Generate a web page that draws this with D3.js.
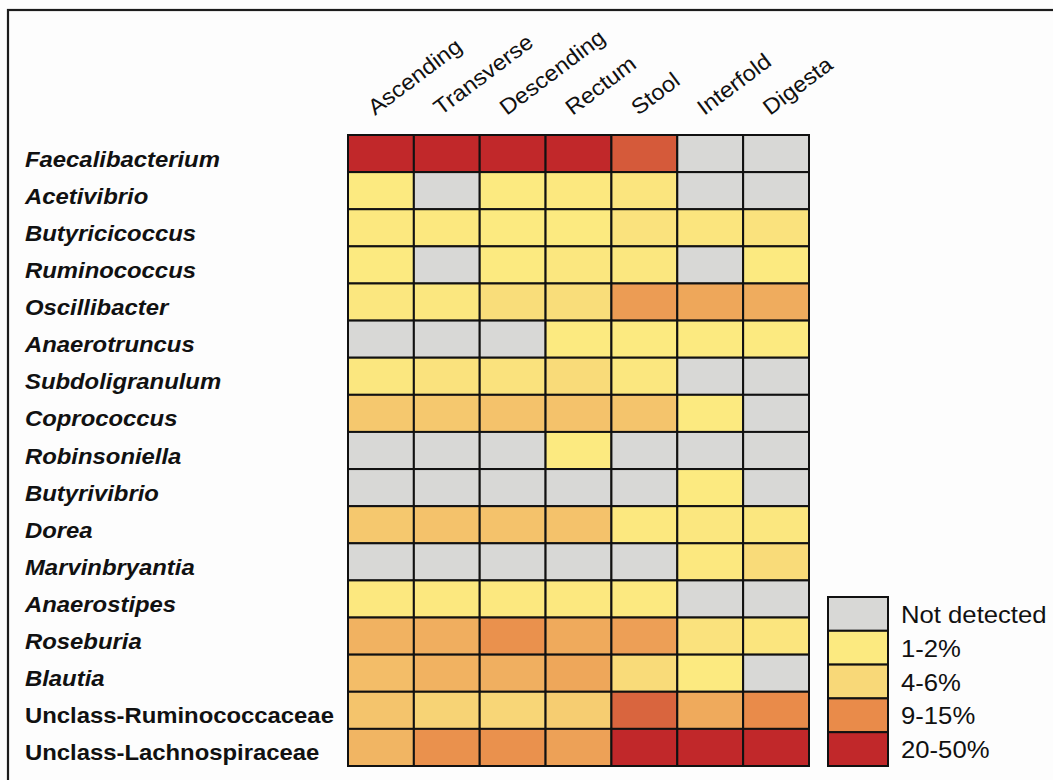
<!DOCTYPE html>
<html>
<head>
<meta charset="utf-8">
<script src="https://cdn.jsdelivr.net/npm/d3@7/dist/d3.min.js"></script>
<style>
  html, body { margin: 0; padding: 0; background: #fdfdfd; }
  svg { display: block; font-family: "Liberation Sans", Arial, sans-serif; }
</style>
</head>
<body>
<svg id="chart" width="1053" height="780"></svg>
<script>
// Gut sampling sites (columns)
const sites = ["Ascending", "Transverse", "Descending", "Rectum", "Stool", "Interfold", "Digesta"];

// Genera (rows); the last two are unclassified family-level groups
const genera = [
  "Faecalibacterium", "Acetivibrio", "Butyricicoccus", "Ruminococcus", "Oscillibacter",
  "Anaerotruncus", "Subdoligranulum", "Coprococcus", "Robinsoniella", "Butyrivibrio",
  "Dorea", "Marvinbryantia", "Anaerostipes", "Roseburia", "Blautia",
  "Unclass-Ruminococcaceae", "Unclass-Lachnospiraceae"
];
const unclassified = ["Unclass-Ruminococcaceae", "Unclass-Lachnospiraceae"];

// Relative abundance (%) per genus, in site order; null = not detected
const faecalibacterium = [30, 30, 30, 30, 21, null, null];
const acetivibrio      = [1.5, null, 1.5, 1.8, 2.5, null, null];
const butyricicoccus   = [1.8, 1.8, 1.5, 1.5, 3, 2.5, 3];
const ruminococcus     = [1.5, null, 1.5, 2, 2, null, 1.5];
const oscillibacter    = [2, 2, 4, 4, 10.5, 9.5, 9];
const anaerotruncus    = [null, null, null, 1.5, 1.5, 1.5, 1.4];
const subdoligranulum  = [2, 3, 3, 4.5, 2, null, null];
const coprococcus      = [6.5, 6.5, 7, 7, 6.8, 1.5, null];
const robinsoniella    = [null, null, null, 1.3, null, null, null];
const butyrivibrio     = [null, null, null, null, null, 1.3, null];
const dorea            = [6.5, 7, 7, 7, 1.8, 2, 2];
const marvinbryantia   = [null, null, null, null, null, 1.8, 4.5];
const anaerostipes     = [1.8, 1.8, 1.8, 1.8, 1.6, null, null];
const roseburia        = [8.5, 8.8, 11.5, 9.2, 10.2, 3, 2.5];
const blautia          = [7.5, 8.5, 8.7, 9.5, 4.5, 1.5, null];
const unclassRumino    = [6.8, 5.5, 5.2, 6, 19, 9.2, 12];
const unclassLachno    = [8.2, 11.5, 11.5, 10, 30, 30, 30];

const abundance = [
  faecalibacterium, acetivibrio, butyricicoccus, ruminococcus, oscillibacter,
  anaerotruncus, subdoligranulum, coprococcus, robinsoniella, butyrivibrio,
  dorea, marvinbryantia, anaerostipes, roseburia, blautia,
  unclassRumino, unclassLachno
];

// Legend classes
const legendLabels = ["Not detected", "1-2%", "4-6%", "9-15%", "20-50%"];
const legendValues = [null, 1.5, 5, 12, 30];

// Colour scale anchored on the legend classes
const notDetected = "#d8d8d6";
const color = d3.scaleLinear()
  .domain([1.5, 5, 12, 30])
  .range(["#fcea80", "#f8d878", "#e98b4a", "#c1282a"])
  .interpolate(d3.interpolateRgb)
  .clamp(true);
const fill = v => v == null ? notDetected : color(v);

const svg = d3.select("#chart");

// Outer frame
svg.append("rect")
  .attr("x", 8).attr("y", 10)
  .attr("width", 1100).attr("height", 820)
  .attr("fill", "#fdfdfd")
  .attr("stroke", "#1c1c1c").attr("stroke-width", 2.2);

const grid = { left: 348, right: 809, top: 135, bottom: 766 };

const x = d3.scaleBand().domain(sites).range([grid.left, grid.right]);
const y = d3.scaleBand().domain(genera).range([grid.top, grid.bottom]);

const cells = [];
genera.forEach((g, i) => sites.forEach((s, j) => cells.push({ g, s, v: abundance[i][j] })));

svg.append("g")
  .selectAll("rect")
  .data(cells)
  .join("rect")
  .attr("x", d => x(d.s))
  .attr("y", d => y(d.g))
  .attr("width", x.bandwidth())
  .attr("height", y.bandwidth())
  .attr("fill", d => fill(d.v))
  .attr("stroke", "#111")
  .attr("stroke-width", 2);

// Column labels, rotated
svg.append("g")
  .selectAll("text")
  .data(sites)
  .join("text")
  .attr("transform", d => `translate(${x(d) + x.bandwidth() / 2 - 6},116) rotate(-37) scale(1.08,1)`)
  .attr("font-size", 22)
  .attr("fill", "#111")
  .text(d => d);

// Row labels
svg.append("g")
  .selectAll("text")
  .data(genera)
  .join("text")
  .attr("transform", d => `translate(25,${y(d) + y.bandwidth() / 2 + 13}) scale(1.085,1)`)
  .attr("font-size", 22)
  .attr("font-weight", "bold")
  .attr("font-style", d => unclassified.includes(d) ? "normal" : "italic")
  .attr("fill", "#111")
  .text(d => d);

// Legend
const ly = d3.scaleBand().domain(legendLabels).range([597, 766]);
const legend = svg.append("g");
legend.selectAll("rect")
  .data(legendLabels)
  .join("rect")
  .attr("x", 828)
  .attr("y", d => ly(d))
  .attr("width", 60)
  .attr("height", ly.bandwidth())
  .attr("fill", (d, i) => fill(legendValues[i]))
  .attr("stroke", "#111")
  .attr("stroke-width", 2);
legend.selectAll("text")
  .data(legendLabels)
  .join("text")
  .attr("transform", d => `translate(901,${ly(d) + ly.bandwidth() / 2 + 9}) scale(1.07,1)`)
  .attr("font-size", 24)
  .attr("fill", "#111")
  .text(d => d);
</script>
</body>
</html>
